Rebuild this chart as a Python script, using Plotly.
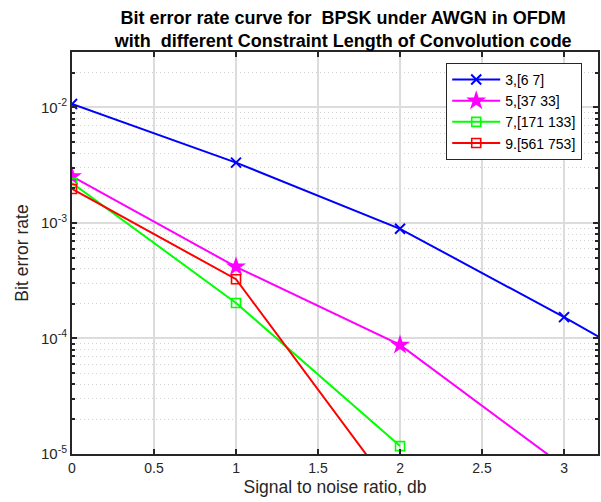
import plotly.graph_objects as go

snr_db = [0, 1, 2, 3, 4]
ber_k3 = [1.07e-2, 3.33e-3, 8.9e-4, 1.53e-4, 2.4e-5]
ber_k5 = [2.53e-3, 4.17e-4, 8.8e-5, 7.8e-6]
ber_k7 = [2.22e-3, 2.03e-4, 1.17e-5]
ber_k9 = [1.97e-3, 3.26e-4, 4.0e-6]
names = ["3,[6 7]", "5,[37 33]", "7,[171 133]", "9.[561 753]"]
colors = ["#0000FF", "#FF00FF", "#00FF00", "#FF0000"]

fig = go.Figure()
series = [ber_k3, ber_k5, ber_k7, ber_k9]
markers = [
    dict(symbol="x-thin-open", size=10, line=dict(width=2, color=colors[0])),
    dict(symbol="star", size=15, color=colors[1], line=dict(width=0)),
    dict(symbol="square-open", size=9, color=colors[2], line=dict(width=1.6, color=colors[2])),
    dict(symbol="square-open", size=9, color=colors[3], line=dict(width=1.6, color=colors[3])),
]
for ys, nm, c, mk in zip(series, names, colors, markers):
    fig.add_trace(go.Scatter(
        x=snr_db[:len(ys)], y=ys, name=nm, mode="lines+markers",
        line=dict(color=c, width=2), marker=mk,
    ))

FONT = "Liberation Sans, Arial, sans-serif"
tickfont = dict(family=FONT, size=14, color="#262626")
fig.update_layout(
    width=601, height=502,
    margin=dict(l=72, r=3, t=52, b=48, autoexpand=False),
    paper_bgcolor="white", plot_bgcolor="white",
    title=dict(
        text="<b>Bit error rate curve for \u00a0BPSK under AWGN in OFDM<br>with \u00a0different Constraint Length of Convolution code</b>",
        x=0.571, xanchor="center", y=0.952, yanchor="middle",
        font=dict(family=FONT, size=18, color="black"),
    ),
    legend=dict(
        x=0.97, y=0.973, xanchor="right", yanchor="top",
        bgcolor="white", bordercolor="#262626", borderwidth=1,
        font=dict(family=FONT, size=14, color="black"),
        tracegroupgap=0, itemwidth=48,
    ),
    showlegend=True,
)
fig.update_xaxes(
    range=[0, 3.207], tickvals=[0, 0.5, 1, 1.5, 2, 2.5, 3],
    ticktext=["0", "0.5", "1", "1.5", "2", "2.5", "3"],
    ticks="inside", ticklen=5, tickcolor="#262626", tickwidth=1.5,
    showline=True, linecolor="#262626", linewidth=2, mirror="ticks",
    showgrid=True, gridcolor="#dcdcdc", gridwidth=1.5, zeroline=False,
    tickfont=tickfont, automargin=False,
    title=dict(text="Signal to noise ratio, db", font=dict(family=FONT, size=17.5, color="#262626"), standoff=6),
)
fig.update_yaxes(
    type="log", range=[-5, -1.52],
    tickvals=[1e-5, 1e-4, 1e-3, 1e-2],
    ticktext=["10<sup>-5</sup>", "10<sup>-4</sup>", "10<sup>-3</sup>", "10<sup>-2</sup>"],
    ticks="inside", ticklen=5, tickcolor="#262626", tickwidth=1.5,
    showline=True, linecolor="#262626", linewidth=2, mirror="ticks",
    showgrid=True, gridcolor="#dcdcdc", gridwidth=1.5, zeroline=False,
    tickfont=dict(family=FONT, size=15, color="#262626"), automargin=False,
    minor=dict(ticks="inside", ticklen=3, tickcolor="#262626", showgrid=True,
               gridcolor="#d2d2d2", griddash="1px,3px", gridwidth=1,
               dtick="D1"),
    title=dict(text="Bit error rate", font=dict(family=FONT, size=17.5, color="#262626"), standoff=8),
)
fig.write_html("out.html", config={"displayModeBar": False},
               post_script="document.body.style.margin='0px';")
